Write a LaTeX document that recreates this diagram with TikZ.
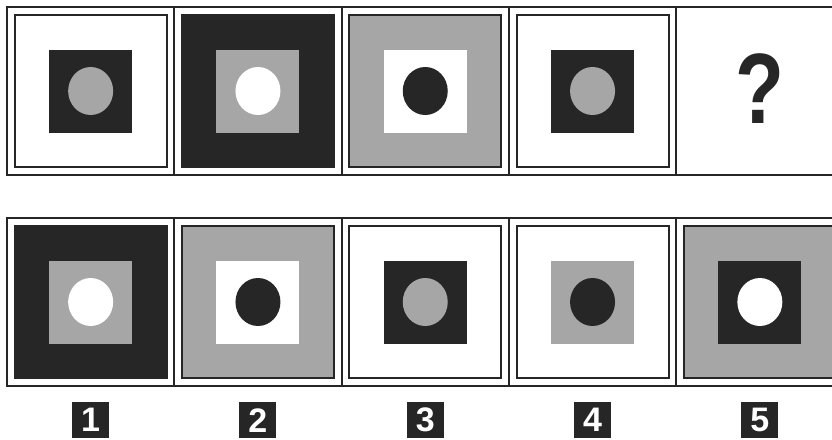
\documentclass[tikz,border=0pt]{standalone}
\usepackage{fontspec}
\setsansfont{Liberation Sans}
\usepackage{tikz}
\usetikzlibrary{positioning, shapes.geometric}
\definecolor{pzdark}{HTML}{262626}
\definecolor{pzgray}{HTML}{A6A6A6}

\begin{document}
\begin{tikzpicture}[x=1pt, y=-1pt,
  pzcell/.style={rectangle, draw=pzdark, line width=2pt, fill=white, inner sep=0pt,
    minimum width=167.3pt, minimum height=168pt},
  pzpanel/.style={rectangle, draw=pzdark, line width=2pt, fill=#1, inner sep=0pt, minimum size=152pt},
  pztile/.style={rectangle, fill=#1, inner sep=0pt, minimum size=83pt},
  pzdot/.style={ellipse, fill=#1, inner sep=0pt, minimum width=45pt, minimum height=48pt},
  pztag/.style={rectangle, fill=pzdark, text=white, inner sep=0pt,
    minimum width=37pt, minimum height=36pt, font=\sffamily\bfseries\fontsize{34}{34}\selectfont},
  node distance=15pt,
]
  \clip (0,0) rectangle (832,439);

  % Top row: the sequence
  \foreach \i/\pan/\til/\dt in {1/white/pzdark/pzgray, 2/pzdark/pzgray/white,
      3/pzgray/white/pzdark, 4/white/pzdark/pzgray} {
    \node[pzcell] (top\i) at ({7+167.3*(\i-0.5)}, 91) {};
    \node[pzpanel=\pan] (toppan\i) at (top\i) {};
    \node[pztile=\til] (toptile\i) at (top\i) {};
    \node[pzdot=\dt] (topdot\i) at (top\i) {};
  }
  \node[pzcell] (top5) at ({7+167.3*4.5}, 91) {};
  \node[text=pzdark, font=\sffamily\bfseries\fontsize{100}{100}\selectfont, inner sep=0pt]
    (qmark) at ([yshift=2pt]top5) {\scalebox{0.8}[1]{?}};

  % Bottom row: the answers
  \foreach \i/\pan/\til/\dt in {1/pzdark/pzgray/white, 2/pzgray/white/pzdark,
      3/white/pzdark/pzgray, 4/white/pzgray/pzdark, 5/pzgray/pzdark/white} {
    \node[pzcell] (bot\i) at ({7+167.3*(\i-0.5)}, 302) {};
    \node[pzpanel=\pan] (botpan\i) at (bot\i) {};
    \node[pztile=\til] (bottile\i) at (bot\i) {};
    \node[pzdot=\dt] (botdot\i) at (bot\i) {};
    \node[pztag, below=of bot\i] (tag\i) {\i};
  }
\end{tikzpicture}
\end{document}
